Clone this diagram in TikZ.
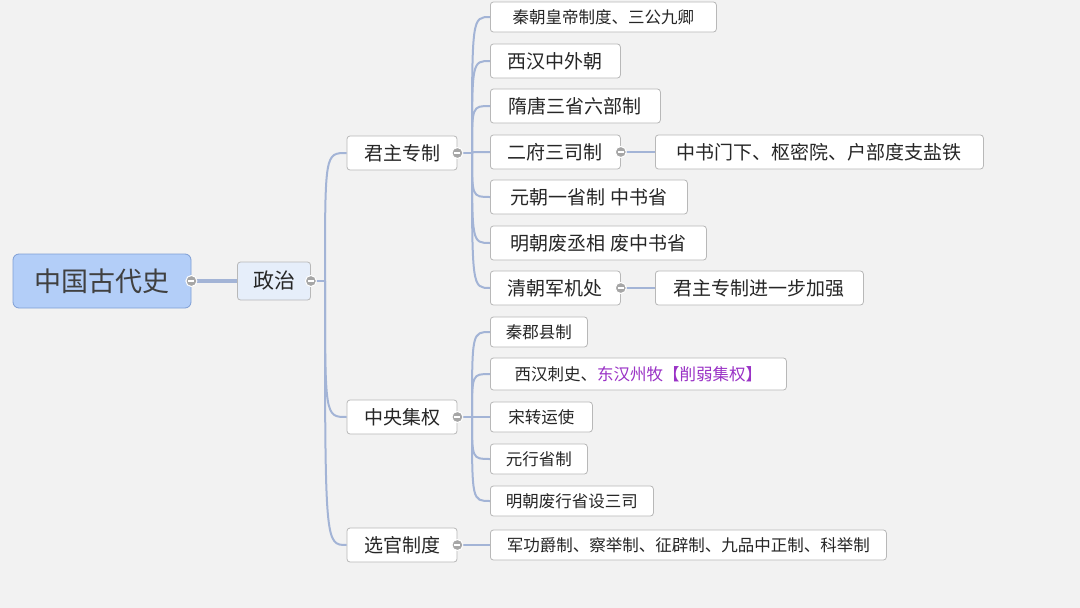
\documentclass[tikz,border=0pt]{standalone}
\usepackage{fontspec}
\setmainfont{Noto Sans CJK SC}
\definecolor{bg}{HTML}{F2F2F2}
\definecolor{ln}{HTML}{A3B4D6}
\definecolor{bd}{HTML}{B8B8B8}
\definecolor{rootf}{HTML}{B3CEF8}
\definecolor{rootb}{HTML}{7E9ED4}
\definecolor{pf}{HTML}{E6EEFA}
\definecolor{pur}{HTML}{9A32C6}
\begin{document}
\begin{tikzpicture}[x=1pt,y=-1pt,
  box/.style={draw=bd,fill=white,rounded corners=3pt,inner sep=0pt,line width=0.8pt,text=black!85},
  big/.style={box,minimum height=34pt,font=\fontsize{19}{19}\selectfont},
  small/.style={box,minimum height=30pt,font=\fontsize{16.5}{16.5}\selectfont},
  con/.style={draw=ln,line width=2pt},
  col/.style={circle,draw=white,fill=bd!90!black,line width=1pt,minimum size=11pt,inner sep=0pt,
    path picture={\draw[white,line width=1.2pt] ([xshift=-3pt]path picture bounding box.center)--([xshift=3pt]path picture bounding box.center);}}]
\fill[bg] (0,0) rectangle (1080,608);
\useasboundingbox (0,0) rectangle (1080,608);
% nodes
\node[box,fill=rootf,draw=rootb,rounded corners=6pt,minimum width=178pt,minimum height=54pt,font=\fontsize{27}{27}\selectfont,text=black!75] (root) at (102,281) {中国古代史};
\node[box,fill=pf,minimum width=73pt,minimum height=38pt,font=\fontsize{21}{21}\selectfont] (zz) at (274,281) {政治};
\node[big,minimum width=110pt] (jz) at (402,153) {君主专制};
\node[big,minimum width=110pt] (zy) at (402,417) {中央集权};
\node[big,minimum width=110pt] (xg) at (402,545) {选官制度};
\node[small,anchor=west,minimum width=226pt] (a1) at (490,17) {秦朝皇帝制度、三公九卿};
\node[big,anchor=west,minimum width=130pt] (a2) at (490,61) {西汉中外朝};
\node[big,anchor=west,minimum width=170pt] (a3) at (490,106) {隋唐三省六部制};
\node[big,anchor=west,minimum width=130pt] (a4) at (490,152) {二府三司制};
\node[big,anchor=west,minimum width=197pt] (a5) at (490,197) {元朝一省制 中书省};
\node[big,anchor=west,minimum width=216pt] (a6) at (490,243) {明朝废丞相 废中书省};
\node[big,anchor=west,minimum width=130pt] (a7) at (490,288) {清朝军机处};
\node[big,anchor=west,minimum width=328pt] (b4) at (655,152) {中书门下、枢密院、户部度支盐铁};
\node[big,anchor=west,minimum width=208pt] (b7) at (655,288) {君主专制进一步加强};
\node[small,anchor=west,minimum width=97pt] (c1) at (490,332) {秦郡县制};
\node[small,anchor=west,minimum width=296pt,minimum height=32pt] (c2) at (490,374) {西汉刺史、\textcolor{pur}{东汉州牧【削弱集权】}};
\node[small,anchor=west,minimum width=102pt] (c3) at (490,417) {宋转运使};
\node[small,anchor=west,minimum width=97pt] (c4) at (490,459) {元行省制};
\node[small,anchor=west,minimum width=163pt] (c5) at (490,501) {明朝废行省设三司};
\node[small,anchor=west,minimum width=396pt] (d1) at (490,545) {军功爵制、察举制、征辟制、九品中正制、科举制};
% connectors
\draw[con,line width=3.5pt] (root.east) -- (zz.west);
\coordinate (j0) at (325,281);
\draw[con] (zz.east) -- (j0);
\foreach \t in {jz,zy,xg}{\draw[con] (j0) .. controls (j0 |- \t.west) .. (\t.west);}
\coordinate (j1) at (472,153);
\draw[con] (jz.east) -- (j1);
\foreach \t in {a1,a2,a3,a4,a5,a6,a7}{\draw[con] (j1) .. controls (j1 |- \t.west) .. (\t.west);}
\coordinate (j2) at (472,417);
\draw[con] (zy.east) -- (j2);
\foreach \t in {c1,c2,c3,c4,c5}{\draw[con] (j2) .. controls (j2 |- \t.west) .. (\t.west);}
\draw[con] (xg.east) -- (d1.west);
\draw[con] (a4.east) -- (b4.west);
\draw[con] (a7.east) -- (b7.west);
% collapse markers
\foreach \n in {root,zz,jz,zy,xg,a4,a7}{\node[col] at (\n.east) {};}
\end{tikzpicture}
\end{document}
